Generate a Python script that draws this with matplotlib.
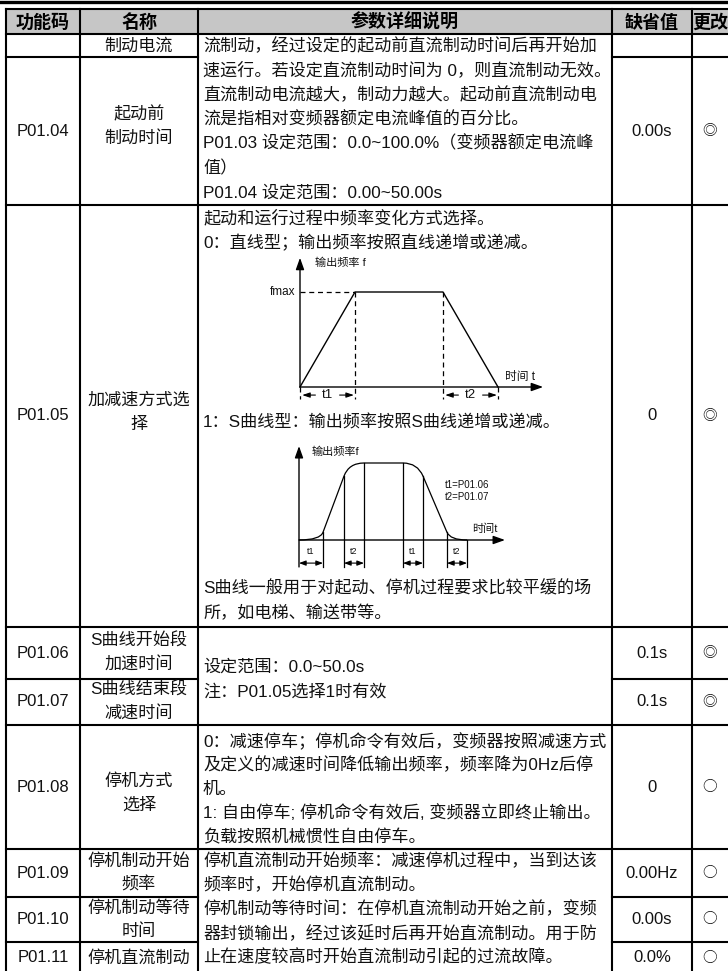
import matplotlib
matplotlib.use("Agg")
import matplotlib.pyplot as plt
from matplotlib.patches import Rectangle, PathPatch
from matplotlib.path import Path

plt.rcParams["font.family"] = ["Liberation Sans", "Noto Sans CJK SC"]

# ---- table content ----
HEADERS = ["功能码", "名称", "参数详细说明", "缺省值", "更改"]
CODES = ["", "P01.04", "P01.05", "P01.06", "P01.07", "P01.08", "P01.09", "P01.10", "P01.11"]
NAMES = [["制动电流"], ["起动前", "制动时间"], ["加减速方式选", "择"],
         ["S曲线开始段", "加速时间"], ["S曲线结束段", "减速时间"], ["停机方式", "选择"],
         ["停机制动开始", "频率"], ["停机制动等待", "时间"], ["停机直流制动"]]
DEFAULTS = ["", "0.00s", "0", "0.1s", "0.1s", "0", "0.00Hz", "0.00s", "0.0%"]
CHANGES = ["", "◎", "◎", "◎", "◎", "○", "○", "○", "○"]

DESC_P0104 = [
    "流制动，经过设定的起动前直流制动时间后再开始加",
    "速运行。若设定直流制动时间为 0，则直流制动无效。",
    "直流制动电流越大，制动力越大。起动前直流制动电",
    "流是指相对变频器额定电流峰值的百分比。",
    "P01.03 设定范围：0.0~100.0%（变频器额定电流峰",
    "值）",
    "P01.04 设定范围：0.00~50.00s",
]
DESC_P0105_TOP = ["起动和运行过程中频率变化方式选择。", "0：直线型；输出频率按照直线递增或递减。"]
DESC_P0105_MID = ["1：S曲线型：输出频率按照S曲线递增或递减。"]
DESC_P0105_END = ["S曲线一般用于对起动、停机过程要求比较平缓的场", "所，如电梯、输送带等。"]
DESC_P0106 = ["设定范围：0.0~50.0s", "注：P01.05选择1时有效"]
DESC_P0108 = [
    "0：减速停车；停机命令有效后，变频器按照减速方式",
    "及定义的减速时间降低输出频率，频率降为0Hz后停",
    "机。",
    "1: 自由停车; 停机命令有效后, 变频器立即终止输出。",
    "负载按照机械惯性自由停车。",
]
DESC_P0109 = [
    "停机直流制动开始频率：减速停机过程中，当到达该",
    "频率时，开始停机直流制动。",
    "停机制动等待时间：在停机直流制动开始之前，变频",
    "器封锁输出，经过该延时后再开始直流制动。用于防",
    "止在速度较高时开始直流制动引起的过流故障。",
]

# linear accel/decel sketch: time in units of t1, frequency in units of fmax
LIN_T = [0, 1.0, 2.6, 3.6]
LIN_F = [0, 1.0, 1.0, 0]
LIN_SEGS = [(0, 1, "t1"), (2, 3, "t2")]

# S-curve sketch breakpoints
S_T = [0, 1.2, 2.25, 3.25, 5.2, 6.2, 7.4, 8.4]
S_F = [0, 0.10, 0.83, 1.0, 1.0, 0.83, 0.10, 0]
S_LABELS = ["t1", "t2", "t1", "t2"]
S_NOTE = ["t1=P01.06", "t2=P01.07"]

# ---- layout (pixels) ----
W, H = 728, 971
COL_X = [6, 80, 198, 612, 692, 728]
HEAD_TOP, HEAD_BOT = 9.5, 34
ROW_BOT = [57, 205, 627, 679, 725, 849, 897, 942, 974]
CROSS_DESC = [False, True, True, False, True, True, False, False, False]
NAME_SHIFT = [0, -5, -4, 0, 0, 6, 0, 0, 0]
LINE = 24.5
TXT = "#111111"

fig = plt.figure(figsize=(W / 100, H / 100), dpi=100)
ax = fig.add_axes([0, 0, 1, 1])
ax.set_xlim(0, W)
ax.set_ylim(H, 0)
ax.axis("off")


def hline(y, x0, x1, lw=1.5):
    ax.plot([x0, x1], [y, y], color="k", lw=lw, solid_capstyle="projecting")


# header
ax.add_patch(Rectangle((COL_X[0], HEAD_TOP), W - COL_X[0], HEAD_BOT - HEAD_TOP,
                       facecolor="#c6c6c6", edgecolor="none"))
hline(2, 0, W, lw=2.4)
hline(HEAD_TOP, COL_X[0], W)
hline(HEAD_BOT, COL_X[0], W)
for i, h in enumerate(HEADERS):
    cx = (COL_X[i] + COL_X[i + 1]) / 2
    ax.text(cx, (HEAD_TOP + HEAD_BOT) / 2 + 0.5, h, ha="center", va="center", fontsize=13,
            fontweight="bold", family=["Noto Sans CJK SC"], color="k")

for x in COL_X[:-1]:
    ax.plot([x, x], [HEAD_TOP, H], color="k", lw=1.5, solid_capstyle="projecting")

tops = [HEAD_BOT] + ROW_BOT[:-1]
for i, yb in enumerate(ROW_BOT[:-1]):
    if CROSS_DESC[i]:
        hline(yb, COL_X[0], W)
    else:
        hline(yb, COL_X[0], COL_X[2])
        hline(yb, COL_X[3], W)

for i in range(len(CODES)):
    yc = (tops[i] + ROW_BOT[i]) / 2
    ax.text((COL_X[0] + COL_X[1]) / 2, yc, CODES[i], ha="center", va="center", fontsize=12, color=TXT)
    n = len(NAMES[i])
    for k, nm in enumerate(NAMES[i]):
        ax.text((COL_X[1] + COL_X[2]) / 2, yc + NAME_SHIFT[i] + (k - (n - 1) / 2) * 24, nm,
                ha="center", va="center", fontsize=12.3, color=TXT)
    ax.text((COL_X[3] + COL_X[4]) / 2, yc, DEFAULTS[i], ha="center", va="center", fontsize=12, color=TXT)
    ax.text((COL_X[4] + COL_X[5]) / 2, yc, CHANGES[i], ha="center", va="center", fontsize=10.5,
            family=["Noto Sans CJK SC"], color=TXT)


def desc(lines, y0, step=LINE):
    for k, s in enumerate(lines):
        ax.text(COL_X[2] + 5, y0 + k * step, s, ha="left", va="center", fontsize=12.3, color=TXT)


desc(DESC_P0104, 45.5)
desc(DESC_P0105_TOP, 218)
desc(DESC_P0105_MID, 423)
desc(DESC_P0105_END, 588)
desc(DESC_P0106, 667)
desc(DESC_P0108, 741, 24)
desc(DESC_P0109, 861, 24)


def inset(ox, oy, sx, sy, xlim, ylim):
    left, right = ox + xlim[0] * sx, ox + xlim[1] * sx
    top, bottom = oy - ylim[1] * sy, oy - ylim[0] * sy
    a = fig.add_axes([left / W, 1 - bottom / H, (right - left) / W, (bottom - top) / H])
    a.set_xlim(*xlim)
    a.set_ylim(*ylim)
    a.axis("off")
    return a


def arrow(a, p_from, p_to, style="-|>,head_length=0.7,head_width=0.25", lw=1.0):
    a.annotate("", xy=p_to, xytext=p_from, annotation_clip=False,
               arrowprops=dict(arrowstyle=style, color="k", lw=lw, shrinkA=0, shrinkB=0))


# ---- linear accel/decel sketch ----
d1 = inset(300, 387, 55, 95, (-0.2, 4.5), (-0.25, 1.42))
arrow(d1, (0, 0), (0, 1.36))
arrow(d1, (0, 0), (4.42, 0))
d1.plot(LIN_T, LIN_F, color="k", lw=1.0, clip_on=False)
dash = dict(color="k", lw=0.9, ls=(0, (4, 3)), clip_on=False)
d1.plot([0, LIN_T[1]], [LIN_F[1], LIN_F[1]], **dash)
for t, f in zip(LIN_T, LIN_F):
    d1.plot([t, t], [f, -0.13], **dash)
small = "-|>,head_length=0.45,head_width=0.15"
for a_i, b_i, lab in LIN_SEGS:
    a, b = LIN_T[a_i], LIN_T[b_i]
    mid = (a + b) / 2
    d1.text(mid, -0.085, lab, ha="center", va="center", fontsize=9.5, color=TXT)
    arrow(d1, (mid - 0.22, -0.085), (a + 0.04, -0.085), small, 0.8)
    arrow(d1, (mid + 0.22, -0.085), (b - 0.02, -0.085), small, 0.8)
d1.text(-0.09, 1.0, "fmax", ha="right", va="center", fontsize=8.5, color=TXT)
d1.text(0.27, 1.31, "输出频率 f", ha="left", va="center", fontsize=8, color=TXT)
d1.text(3.73, 0.11, "时间 t", ha="left", va="center", fontsize=8.5, color=TXT)

# ---- S-curve sketch ----
d2 = inset(299, 540, 20, 77, (-0.5, 10.6), (-0.4, 1.26))
arrow(d2, (0, -0.35), (0, 1.22))
arrow(d2, (0, 0), (10.3, 0))


def corner(p0, p1, q0, q1):
    # intersection of line p0-p1 with line q0-q1 (rounded-corner control point)
    (x1, y1), (x2, y2), (x3, y3), (x4, y4) = p0, p1, q0, q1
    den = (x1 - x2) * (y3 - y4) - (y1 - y2) * (x3 - x4)
    u = ((x1 - x3) * (y3 - y4) - (y1 - y3) * (x3 - x4)) / den
    return (x1 + u * (x2 - x1), y1 + u * (y2 - y1))


P = list(zip(S_T, S_F))
c1 = corner((-1, 0), P[0], P[1], P[2])
c2 = corner(P[1], P[2], P[3], P[4])
c3 = corner(P[3], P[4], P[5], P[6])
c4 = corner(P[5], P[6], P[7], (S_T[7] + 1, 0))
verts = [P[0], c1, P[1], P[2], c2, P[3], P[4], c3, P[5], P[6], c4, P[7]]
codes = [Path.MOVETO, Path.CURVE3, Path.CURVE3, Path.LINETO, Path.CURVE3, Path.CURVE3,
         Path.LINETO, Path.CURVE3, Path.CURVE3, Path.LINETO, Path.CURVE3, Path.CURVE3]
d2.add_patch(PathPatch(Path(verts, codes), fill=False, lw=0.9, edgecolor="k", clip_on=False))
for t, f in P[1:]:
    d2.plot([t, t], [f, -0.35], color="k", lw=0.9, clip_on=False)
tiny = "<|-|>,head_length=0.4,head_width=0.15"
for j, lab in enumerate(S_LABELS):
    a, b = S_T[2 * j], S_T[2 * j + 1]
    arrow(d2, (a, -0.30), (b, -0.30), tiny, 0.8)
    d2.text((a + b) / 2, -0.155, lab, ha="center", va="center", fontsize=6.5, color=TXT)
for k, s in enumerate(S_NOTE):
    d2.text(7.3, 0.71 - k * 0.155, s, ha="left", va="center", fontsize=7, color=TXT)
d2.text(8.65, 0.145, "时间t", ha="left", va="center", fontsize=8, color=TXT)
d2.text(0.65, 1.14, "输出频率f", ha="left", va="center", fontsize=8, color=TXT)

fig.savefig("out.png", dpi=100)
